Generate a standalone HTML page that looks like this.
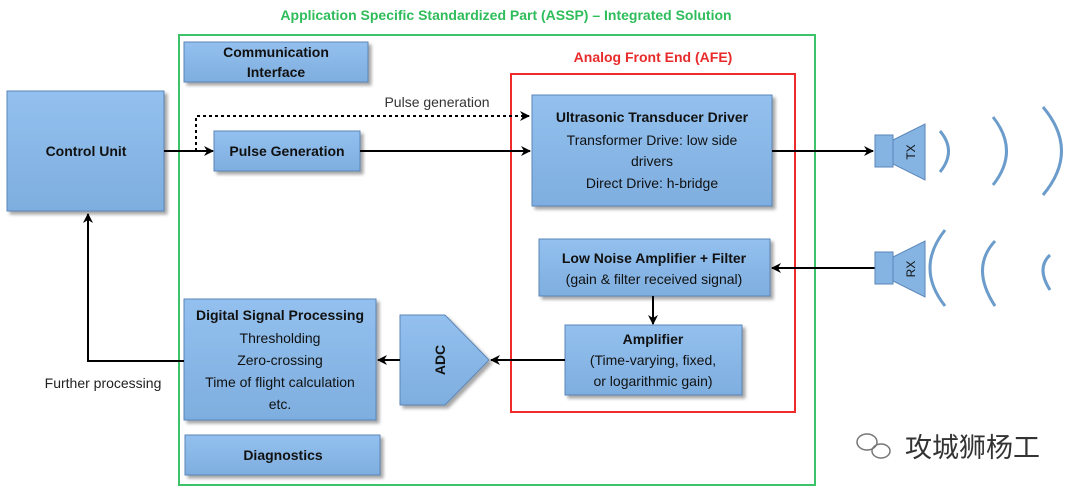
<!DOCTYPE html>
<html><head><meta charset="utf-8"><style>
body{margin:0;background:#fff;}
svg{display:block;font-family:"Liberation Sans","Noto Sans CJK SC",sans-serif;}
.b{fill:url(#g);stroke:#5a86b8;stroke-width:1;filter:url(#s);}
.t{font-size:14px;fill:#111;text-anchor:middle;}
.tb{font-size:14px;font-weight:bold;fill:#111;text-anchor:middle;}
</style></head><body>
<svg width="1080" height="494" viewBox="0 0 1080 494">
<defs>
<linearGradient id="g" x1="0" y1="0" x2="0" y2="1"><stop offset="0" stop-color="#93c0ee"/><stop offset="1" stop-color="#7eaedf"/></linearGradient>
<filter id="s" x="-5%" y="-5%" width="115%" height="120%"><feDropShadow dx="3" dy="3" stdDeviation="1.5" flood-color="#000" flood-opacity="0.35"/></filter>
<marker id="a" markerWidth="10" markerHeight="10" refX="9" refY="5" orient="auto" markerUnits="userSpaceOnUse"><path d="M0,0 L10,5 L0,10 L3,5 z" fill="#000"/></marker>
</defs>
<text x="506" y="20" font-size="14" font-weight="bold" fill="#2ebd5a" text-anchor="middle">Application Specific Standardized Part (ASSP) – Integrated Solution</text>
<rect x="179" y="35" width="636" height="450" fill="none" stroke="#3cc36a" stroke-width="2"/>
<text x="653" y="62" font-size="14" font-weight="bold" fill="#e82a2a" text-anchor="middle">Analog Front End (AFE)</text>
<rect x="511" y="74" width="284" height="338" fill="none" stroke="#ee2a2a" stroke-width="2"/>

<rect class="b" x="7" y="91" width="157" height="120"/>
<text class="tb" x="86" y="156">Control Unit</text>
<rect class="b" x="184" y="42" width="184" height="40"/>
<text class="tb" x="276" y="57">Communication</text><text class="tb" x="276" y="77">Interface</text>
<rect class="b" x="214" y="131" width="146" height="40"/>
<text class="tb" x="287" y="156">Pulse Generation</text>
<rect class="b" x="532" y="95" width="240" height="111"/>
<text class="tb" x="652" y="122">Ultrasonic Transducer Driver</text>
<text class="t" x="652" y="145">Transformer Drive: low side</text>
<text class="t" x="652" y="166">drivers</text>
<text class="t" x="652" y="188">Direct Drive: h-bridge</text>
<rect class="b" x="539" y="239" width="231" height="57"/>
<text class="tb" x="654" y="263">Low Noise Amplifier + Filter</text>
<text class="t" x="654" y="284">(gain &amp; filter received signal)</text>
<rect class="b" x="565" y="325" width="177" height="70"/>
<text class="tb" x="653" y="344">Amplifier</text>
<text class="t" x="653" y="365">(Time-varying, fixed,</text>
<text class="t" x="653" y="386">or logarithmic gain)</text>
<rect class="b" x="184" y="299" width="192" height="121"/>
<text class="tb" x="280" y="320">Digital Signal Processing</text>
<text class="t" x="280" y="343">Thresholding</text>
<text class="t" x="280" y="365">Zero-crossing</text>
<text class="t" x="280" y="387">Time of flight calculation</text>
<text class="t" x="280" y="409">etc.</text>
<rect class="b" x="185" y="435" width="195" height="40"/>
<text class="tb" x="283" y="460">Diagnostics</text>
<polygon class="b" points="400,315 445,315 489,360 445,405 400,405"/>
<text class="tb" transform="translate(440,360) rotate(-90)" y="5">ADC</text>

<line x1="164" y1="151" x2="213" y2="151" stroke="#000" stroke-width="2" marker-end="url(#a)"/>
<polyline points="196,151 196,116 529,116" fill="none" stroke="#000" stroke-width="2" stroke-dasharray="3,3" marker-end="url(#a)"/>
<text x="437" y="107" font-size="14" fill="#333" text-anchor="middle">Pulse generation</text>
<line x1="360" y1="151" x2="530" y2="151" stroke="#000" stroke-width="2" marker-end="url(#a)"/>
<line x1="772" y1="151" x2="873" y2="151" stroke="#000" stroke-width="2" marker-end="url(#a)"/>
<line x1="875" y1="268" x2="772" y2="268" stroke="#000" stroke-width="2" marker-end="url(#a)"/>
<line x1="653" y1="296" x2="653" y2="324" stroke="#000" stroke-width="2" marker-end="url(#a)"/>
<line x1="565" y1="360" x2="491" y2="360" stroke="#000" stroke-width="2" marker-end="url(#a)"/>
<line x1="400" y1="360" x2="378" y2="360" stroke="#000" stroke-width="2" marker-end="url(#a)"/>
<polyline points="184,361 88,361 88,214" fill="none" stroke="#000" stroke-width="2" marker-end="url(#a)"/>
<text x="103" y="388" font-size="14" fill="#222" text-anchor="middle">Further processing</text>

<rect x="875" y="135" width="18" height="32" fill="#86b4e2" stroke="#5a86b8"/>
<polygon points="893,140 925,124 925,180 893,164" fill="#86b4e2" stroke="#5a86b8"/>
<text font-size="12" fill="#111" text-anchor="middle" transform="translate(911,152) rotate(-90)" y="4">TX</text>
<rect x="875" y="252" width="18" height="32" fill="#86b4e2" stroke="#5a86b8"/>
<polygon points="893,257 925,241 925,297 893,281" fill="#86b4e2" stroke="#5a86b8"/>
<text font-size="12" fill="#111" text-anchor="middle" transform="translate(911,269) rotate(-90)" y="4">RX</text>
<g fill="none" stroke="#6b9ccb" stroke-width="3">
<path d="M940,131 Q957,151 940,172"/>
<path d="M993,117 Q1020,151 993,185"/>
<path d="M1043,107 Q1080,151 1043,195"/>
<path d="M945,230 Q915,268 945,306"/>
<path d="M995,241 Q970,268 995,306"/>
<path d="M1050,255 Q1036,268 1050,290"/>
</g>
<g fill="none" stroke="#777" stroke-width="1.5"><ellipse cx="867" cy="442" rx="10" ry="8"/><ellipse cx="881" cy="451" rx="9" ry="7"/></g>
<text x="905" y="457" font-size="27" fill="#333">攻城狮杨工</text>
</svg>
</body></html>
